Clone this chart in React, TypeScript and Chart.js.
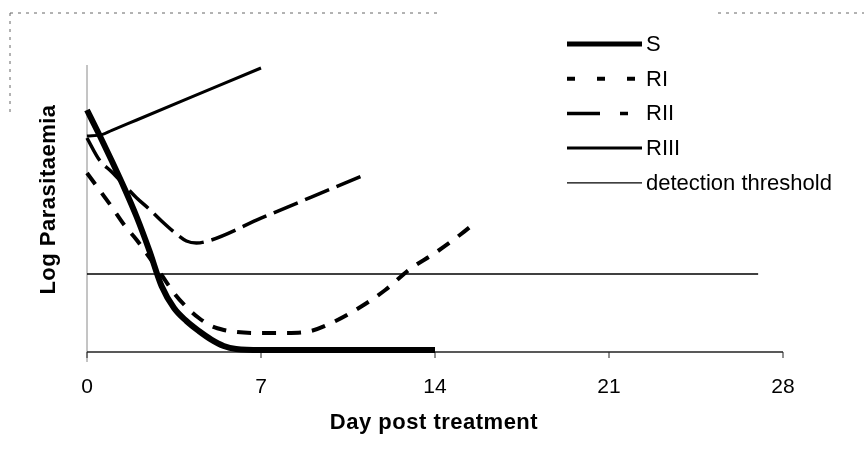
import React, { useEffect, useRef } from 'react';
import { Chart, registerables } from 'chart.js';

Chart.register(...registerables);

// ---- data ----
const xTicks = [0, 7, 14, 21, 28];
const xMin = 0;
const xMax = 28;
const yMin = 0;
const yMax = 14.35;

const sDays = [0, 0.5, 1, 1.5, 2, 2.5, 3, 3.5, 4, 4.5, 5, 5.5, 6, 7, 14];
const sValues = [12.1, 10.85, 9.55, 8.2, 6.75, 5.1, 3.3, 2.2, 1.55, 1.05, 0.62, 0.3, 0.15, 0.1, 0.1];

const rIDays = [0, 0.5, 1, 1.5, 2, 2.5, 3, 3.5, 4, 4.5, 5, 5.5, 6, 7, 8, 9, 10, 11, 12, 13, 14, 15, 15.7];
const rIValues = [8.95, 8.1, 7.25, 6.35, 5.6, 4.75, 3.85, 2.95, 2.25, 1.7, 1.3, 1.1, 1.0, 0.95, 0.95, 1.05, 1.55, 2.25, 3.1, 4.15, 4.95, 5.85, 6.55];

const rIIDays = [0, 0.5, 1, 1.5, 2, 2.5, 3, 3.5, 4, 4.4, 5, 7, 9, 11];
const rIIValues = [10.7, 9.6, 9.0, 8.35, 7.7, 7.15, 6.55, 6.0, 5.55, 5.45, 5.6, 6.69, 7.73, 8.77];

const rIIIDays = [0, 0.6, 1, 2, 4, 7];
const rIIIValues = [10.8, 10.87, 11.08, 11.6, 12.64, 14.2];

const thresholdDays = [0, 27];
const thresholdValues = [3.9, 3.9];

const seriesNames = ['S', 'RI', 'RII', 'RIII', 'detection threshold'];
const xTitle = 'Day post treatment';
const yTitle = 'Log Parasitaemia';

const FONT = '"Liberation Sans", Arial, Helvetica, sans-serif';

function toXY(d: number[], v: number[]) {
  return d.map((x, i) => ({ x, y: v[i] }));
}

export default function App() {
  const ref = useRef<HTMLCanvasElement>(null);

  useEffect(() => {
    const canvas = ref.current;
    if (!canvas) return;

    const legendStyles = [
      { width: 5, dash: [] as number[] },
      { width: 4, dash: [8, 22] },
      { width: 3.5, dash: [33, 20, 8, 100] },
      { width: 3, dash: [] as number[] },
      { width: 1.2, dash: [] as number[] },
    ];

    const plugin = {
      id: 'customDecor',
      beforeDatasetsDraw(chart: any) {
        const ctx = chart.ctx as CanvasRenderingContext2D;
        const xs = chart.scales.x;
        const ys = chart.scales.y;
        const y0 = ys.getPixelForValue(yMin);
        const x0 = xs.getPixelForValue(xMin);
        ctx.save();
        // y axis (faint)
        ctx.strokeStyle = '#8a8a8a';
        ctx.lineWidth = 1;
        ctx.beginPath();
        ctx.moveTo(x0, ys.getPixelForValue(yMax));
        ctx.lineTo(x0, y0 + 10);
        ctx.stroke();
        // x axis
        ctx.strokeStyle = '#222';
        ctx.lineWidth = 1.5;
        ctx.beginPath();
        ctx.moveTo(x0, y0);
        ctx.lineTo(xs.getPixelForValue(xMax), y0);
        ctx.stroke();
        // ticks
        ctx.lineWidth = 1;
        xTicks.forEach((t) => {
          const px = xs.getPixelForValue(t);
          ctx.beginPath();
          ctx.moveTo(px, y0);
          ctx.lineTo(px, y0 + 6);
          ctx.stroke();
        });
        ctx.restore();
      },
      afterDraw(chart: any) {
        const ctx = chart.ctx as CanvasRenderingContext2D;
        const xs = chart.scales.x;
        const ys = chart.scales.y;
        const y0 = ys.getPixelForValue(yMin);
        ctx.save();
        ctx.fillStyle = '#000';
        // tick labels
        ctx.font = `21px ${FONT}`;
        ctx.textAlign = 'center';
        ctx.textBaseline = 'alphabetic';
        xTicks.forEach((t) => {
          ctx.fillText(String(t), xs.getPixelForValue(t), y0 + 41);
        });
        // x title
        ctx.font = `bold 22px ${FONT}`;
        (ctx as any).letterSpacing = '0.5px';
        ctx.fillText(xTitle, (xs.getPixelForValue(xMin) + xs.getPixelForValue(xMax)) / 2 - 1, y0 + 77);
        // y title
        ctx.save();
        ctx.translate(55, 199.5);
        ctx.rotate(-Math.PI / 2);
        ctx.fillText(yTitle, 0, 0);
        ctx.restore();
        (ctx as any).letterSpacing = '0px';

        // legend
        const lx0 = 567;
        const lx1 = 642;
        ctx.font = `22px ${FONT}`;
        ctx.textAlign = 'left';
        ctx.textBaseline = 'middle';
        seriesNames.forEach((name, i) => {
          const yy = 44 + i * 34.7;
          const st = legendStyles[i];
          ctx.save();
          ctx.beginPath();
          ctx.rect(lx0, yy - 10, lx1 - lx0, 20);
          ctx.clip();
          ctx.strokeStyle = '#000';
          ctx.lineWidth = st.width;
          ctx.setLineDash(st.dash);
          ctx.beginPath();
          ctx.moveTo(lx0, yy);
          ctx.lineTo(lx1, yy);
          ctx.stroke();
          ctx.restore();
          ctx.fillText(name, 646, yy + 1);
        });

        // scanned frame remnants (dotted)
        ctx.strokeStyle = '#666';
        ctx.lineWidth = 1;
        ctx.setLineDash([3, 5]);
        ctx.beginPath();
        ctx.moveTo(10, 13);
        ctx.lineTo(440, 13);
        ctx.moveTo(718, 13);
        ctx.lineTo(864, 13);
        ctx.moveTo(10, 13);
        ctx.lineTo(10, 115);
        ctx.stroke();
        ctx.restore();
      },
    };

    const common = {
      pointRadius: 0,
      pointHoverRadius: 0,
      fill: false,
      borderColor: '#000',
      clip: false as any,
      cubicInterpolationMode: 'monotone' as const,
    };

    const chart = new Chart(canvas, {
      type: 'line',
      data: {
        datasets: [
          { ...common, label: seriesNames[0], data: toXY(sDays, sValues), borderWidth: 6 },
          { ...common, label: seriesNames[3], data: toXY(rIIIDays, rIIIValues), borderWidth: 3 },
          { ...common, label: seriesNames[2], data: toXY(rIIDays, rIIValues), borderWidth: 3.5, borderDash: [26, 8] },
          { ...common, label: seriesNames[1], data: toXY(rIDays, rIValues), borderWidth: 4, borderDash: [14, 11] },
          { ...common, label: seriesNames[4], data: toXY(thresholdDays, thresholdValues), borderWidth: 1.5, cubicInterpolationMode: 'default' as const, tension: 0 },
        ],
      },
      options: {
        responsive: false,
        maintainAspectRatio: false,
        devicePixelRatio: 1,
        animation: false,
        events: [],
        layout: { padding: { left: 87, right: 81, top: 65, bottom: 103 } },
        plugins: {
          legend: { display: false },
          tooltip: { enabled: false },
          title: { display: false },
        },
        scales: {
          x: { type: 'linear', min: xMin, max: xMax, display: false },
          y: { type: 'linear', min: yMin, max: yMax, display: false },
        },
      },
      plugins: [plugin],
    });

    return () => chart.destroy();
  }, []);

  return (
    <div style={{ position: 'fixed', left: 0, top: 0, width: 864, height: 455, background: '#fff' }}>
      <canvas ref={ref} width={864} height={455} style={{ display: 'block', width: 864, height: 455 }} />
    </div>
  );
}
